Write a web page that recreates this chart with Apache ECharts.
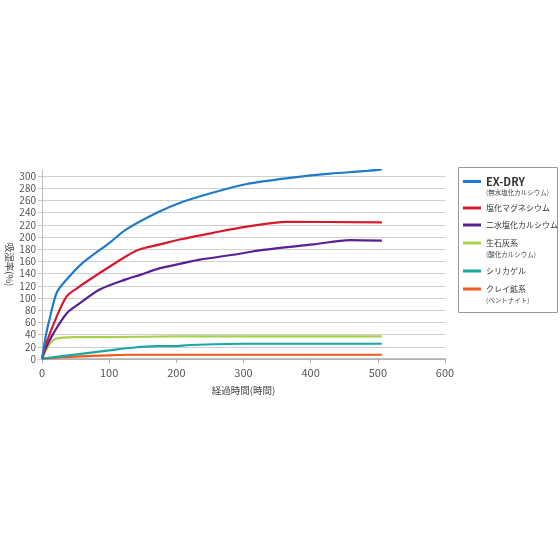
<!DOCTYPE html>
<html><head><meta charset="utf-8">
<script src="https://cdn.jsdelivr.net/npm/echarts@6/dist/echarts.min.js"></script>
<style>html,body{margin:0;padding:0;background:#fff}#c{width:560px;height:560px}</style>
</head><body><div id="c"></div>
<script>
var seriesNames = ['EX-DRY','塩化マグネシウム','二水塩化カルシウム','生石灰系','シリカゲル','クレイ鉱系'];
var subLabels = ['(無水塩化カルシウム)','','','(酸化カルシウム)','','(ベントナイト)'];
var xTicks = [0,100,200,300,400,500,600];
var exDry = [[0,0],[6,40],[12,69],[22,109],[34,127],[61,158],[101,191],[126,213],[171,240],[205,256],[255,273],[305,287],[369,297],[429,304],[478,308],[506,311]];
var mgCl = [[0,0],[4.5,20],[22,70],[37,103],[52,116],[86,141],[126,169],[146,180],[176,188],[205,196],[255,207],[305,217],[364,225],[506,224]];
var caCl2 = [[0,0],[4.5,15],[17,42],[37,75],[57,92],[86,114],[126,131],[146,138],[176,149],[205,156],[235,163],[285,171],[329,179],[404,188],[459,195],[506,194]];
var quicklime = [[0,0],[5,12],[10,22],[15,29],[20,33],[30,35],[50,36],[100,36],[200,37],[506,37]];
var silica = [[0,0],[10,2],[40,6],[70,10],[100,14],[130,18],[170,21],[195,21],[220,23],[300,25],[506,25]];
var clay = [[0,1],[20,2],[50,4],[100,6],[130,7],[506,7]];
var colors = ['#1f7bc9','#d61a2e','#5b1f95','#a9d24c','#1ba8a2','#f15a1c'];
var allData = [exDry, mgCl, caCl2, quicklime, silica, clay];

var font = '"Noto Sans CJK JP", "Noto Sans", sans-serif';
var legendTops = [176,204,221,239,267,285];
var legends = seriesNames.map(function(n,i){
  var two = subLabels[i] !== '';
  return {
    data:[n], orient:'vertical', left:463, top:legendTops[i], padding:0,
    itemWidth:18, itemHeight:3, icon:'rect',
    formatter: function(name){ return two ? '{a|'+name+'}\n{b|'+subLabels[i]+'}' : '{a|'+name+'}'; },
    textStyle:{
      padding: two ? [11,0,0,0] : 0,
      rich:{
        a:{fontFamily:font, fontSize: i===0?11:8, fontWeight: i===0?'bold':'normal', color:'#333', lineHeight:12},
        b:{fontFamily:font, fontSize:6.5, color:'#444', lineHeight:11}
      }
    }
  };
});

var chart = echarts.init(document.getElementById('c'), null, {renderer:'canvas'});
chart.setOption({
  animation:false,
  color: colors,
  textStyle:{fontFamily:font},
  grid:{left:42, right:115, top:170, bottom:201, containLabel:false, outerBoundsMode:'none'},
  legend: legends,
  graphic:[{type:'rect', shape:{x:458.5,y:167.5,width:99,height:145}, style:{fill:'none', stroke:'#999', lineWidth:1}}],
  xAxis:{type:'value', min:0, max:600, interval:100,
    name:'経過時間(時間)', nameLocation:'middle', nameGap:27, nameMoveOverlap:false,
    nameTextStyle:{fontFamily:font, fontSize:9.5, color:'#444'},
    axisLine:{lineStyle:{color:'#aaa', width:1.5}},
    axisTick:{show:true, length:4, lineStyle:{color:'#aaa'}},
    axisLabel:{color:'#555', fontSize:11, margin:8, fontFamily:font},
    splitLine:{show:false}},
  yAxis:{type:'value', min:0, max:310, interval:20,
    name:'吸湿率(%)', nameLocation:'middle', nameRotate:-90, nameGap:32, nameMoveOverlap:false,
    nameTextStyle:{fontFamily:font, fontSize:9.5, color:'#444', verticalAlign:'middle'},
    axisLine:{show:true, lineStyle:{color:'#bbb', width:1}},
    axisTick:{show:true, length:4, lineStyle:{color:'#ccc'}},
    axisLabel:{color:'#555', fontSize:10, margin:6, showMaxLabel:false, fontFamily:font,
      formatter:function(v){return v%20===0? String(v):'';}},
    splitLine:{show:true, showMaxLine:false, lineStyle:{color:'#cfcfcf', width:1.2}}},
  series: seriesNames.map(function(n,i){
    return {name:n, type:'line', data:allData[i], showSymbol:false, smooth:0.3,
      lineStyle:{width:2.2, color:colors[i]}, itemStyle:{color:colors[i]}, z: 10-i};
  })
});
</script></body></html>
